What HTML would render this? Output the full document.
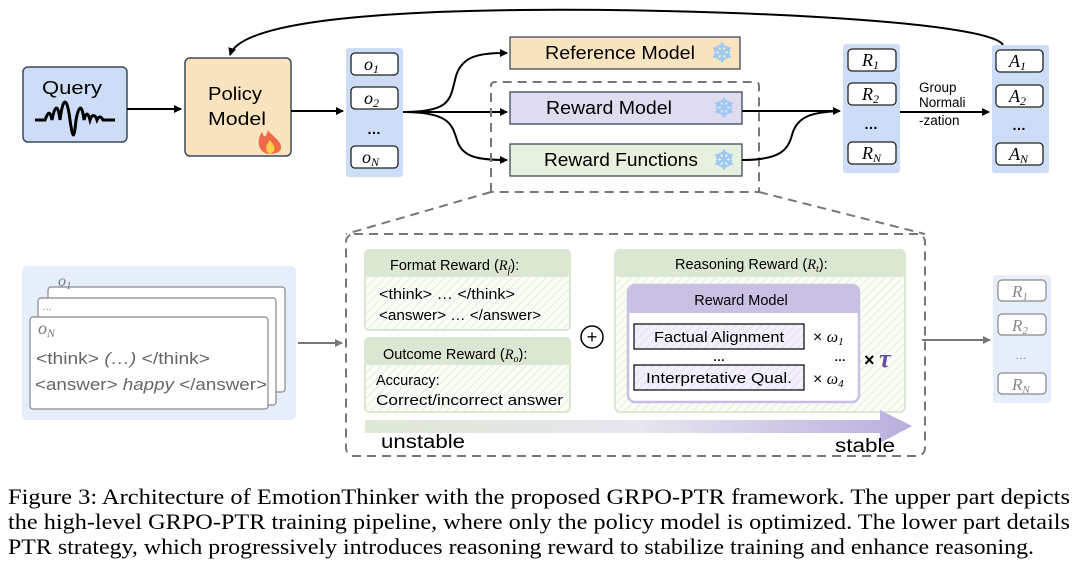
<!DOCTYPE html>
<html><head><meta charset="utf-8"><style>
html,body{margin:0;padding:0;background:#fff;width:1080px;height:577px;overflow:hidden}
svg{display:block}
.s{font-family:"Liberation Sans",sans-serif}
.m{font-family:"Liberation Serif",serif;font-style:italic}
</style></head><body>
<svg width="1080" height="577" viewBox="0 0 1080 577" xmlns="http://www.w3.org/2000/svg">
<defs>
<marker id="ah" markerWidth="8" markerHeight="8" refX="7" refY="4" orient="auto" markerUnits="userSpaceOnUse"><path d="M0,0 L8,4 L0,8 z" fill="#000"/></marker>
<marker id="ag" markerWidth="8" markerHeight="8" refX="7" refY="4" orient="auto" markerUnits="userSpaceOnUse"><path d="M0,0 L8,4 L0,8 z" fill="#777"/></marker>
<pattern id="hatch" width="6" height="6" patternUnits="userSpaceOnUse" patternTransform="rotate(45)"><rect width="6" height="6" fill="#fbfdf8"/><line x1="0" y1="0" x2="0" y2="6" stroke="#e3eed8" stroke-width="2"/></pattern>
<pattern id="hatchp" width="6" height="6" patternUnits="userSpaceOnUse" patternTransform="rotate(45)"><rect width="6" height="6" fill="#f3f0fb"/><line x1="0" y1="0" x2="0" y2="6" stroke="#e3def3" stroke-width="2"/></pattern>
<linearGradient id="gr" x1="0" x2="1"><stop offset="0" stop-color="#dfe9d6"/><stop offset="0.5" stop-color="#e8e6ef"/><stop offset="1" stop-color="#b9aede"/></linearGradient>
</defs>

<path d="M1003,45 C990,20 700,8 520,10 C350,12 240,25 230,55" fill="none" stroke="#000" stroke-width="2" marker-end="url(#ah)"/>

<rect x="23" y="67" width="104" height="75" rx="5" fill="#cddcf7" stroke="#3c4a5a" stroke-width="1.5"/>
<text x="42" y="94" class="s" font-size="18" textLength="60" lengthAdjust="spacingAndGlyphs">Query</text>
<path d="M35,120 L45,120 C48,112 50,110 52,120 C55,104 58,104 60,120 C63,96 67,96 70,120 C73,140 74,140 76,120 C79,104 82,104 84,120 C86,112 88,112 90,120 C92,114 95,114 97,120 C99,116 101,116 103,120 L115,120" fill="none" stroke="#000" stroke-width="3"/>
<line x1="127" y1="109" x2="181" y2="109" stroke="#000" stroke-width="2" marker-end="url(#ah)"/>

<rect x="185" y="58" width="106" height="98" rx="5" fill="#fae4c0" stroke="#3c4a5a" stroke-width="1.5"/>
<text x="208" y="100" class="s" font-size="18" textLength="54" lengthAdjust="spacingAndGlyphs">Policy</text>
<text x="208" y="125" class="s" font-size="18" textLength="58" lengthAdjust="spacingAndGlyphs">Model</text>
<path d="M268,154 C258,152 256,140 262,132 C264,138 266,138 268,130 C272,136 280,140 281,146 C282,152 276,154 268,154z" fill="#f06a4a"/>
<path d="M270,154 C265,152 265,146 270,140 C274,146 278,150 270,154z" fill="#fbd04a"/>
<line x1="291" y1="111" x2="343" y2="111" stroke="#000" stroke-width="2" marker-end="url(#ah)"/>

<rect x="346" y="48" width="57" height="129" rx="3" fill="#cddcf7"/>
<g fill="#fff" stroke="#222" stroke-width="1.3">
<rect x="351" y="53" width="47" height="22" rx="4"/><rect x="351" y="87" width="47" height="22" rx="4"/><rect x="351" y="146" width="47" height="22" rx="4"/></g>
<text x="364" y="70" class="m" font-size="18">o<tspan font-size="12" dy="3">1</tspan></text>
<text x="364" y="104" class="m" font-size="18">o<tspan font-size="12" dy="3">2</tspan></text>
<text x="362" y="163" class="m" font-size="18">o<tspan font-size="12" dy="3">N</tspan></text>
<text x="374" y="134" class="s" font-size="14" text-anchor="middle" font-weight="bold">…</text>

<path d="M403,112 C450,112 450,100 455,80 C460,55 480,53 507,53" fill="none" stroke="#000" stroke-width="2" marker-end="url(#ah)"/>
<line x1="403" y1="112" x2="507" y2="112" stroke="#000" stroke-width="2" marker-end="url(#ah)"/>
<path d="M403,112 C450,112 452,125 457,140 C462,158 480,160 507,160" fill="none" stroke="#000" stroke-width="2" marker-end="url(#ah)"/>

<path d="M491,192 L491,86 Q491,82 495,82 L755,82 Q759,82 759,86 L759,192 Z" fill="none" stroke="#777" stroke-width="2" stroke-dasharray="9,6"/>
<line x1="491" y1="192" x2="346" y2="234" stroke="#777" stroke-width="2" stroke-dasharray="9,6"/>
<line x1="759" y1="192" x2="925" y2="234" stroke="#777" stroke-width="2" stroke-dasharray="9,6"/>

<rect x="510" y="37" width="230" height="32" fill="#fae4c0" stroke="#3c4a5a" stroke-width="1.3"/>
<text x="545" y="59" class="s" font-size="18" textLength="150" lengthAdjust="spacingAndGlyphs">Reference Model</text>
<rect x="510" y="92" width="232" height="32" fill="#e0dcf0" stroke="#3c4a5a" stroke-width="1.3"/>
<text x="546" y="114" class="s" font-size="18" textLength="126" lengthAdjust="spacingAndGlyphs">Reward Model</text>
<rect x="510" y="144" width="232" height="32" fill="#e8f1de" stroke="#3c4a5a" stroke-width="1.3"/>
<text x="544" y="166" class="s" font-size="18" textLength="154" lengthAdjust="spacingAndGlyphs">Reward Functions</text>
<g class="s" font-size="26" fill="#9cc8f3" text-anchor="middle" font-weight="bold"><text x="722" y="62">❄</text><text x="724" y="117">❄</text><text x="724" y="169">❄</text></g>

<line x1="742" y1="111" x2="840" y2="111" stroke="#000" stroke-width="2" marker-end="url(#ah)"/>
<path d="M742,160 C780,160 788,150 792,135 C797,115 815,112 840,111" fill="none" stroke="#000" stroke-width="2"/>

<rect x="843" y="44" width="57" height="129" rx="3" fill="#cddcf7"/>
<g fill="#fff" stroke="#222" stroke-width="1.3">
<rect x="848" y="49" width="48" height="22" rx="4"/><rect x="848" y="83" width="48" height="22" rx="4"/><rect x="848" y="142" width="48" height="22" rx="4"/></g>
<text x="862" y="66" class="m" font-size="18">R<tspan font-size="12" dy="3">1</tspan></text>
<text x="862" y="100" class="m" font-size="18">R<tspan font-size="12" dy="3">2</tspan></text>
<text x="862" y="159" class="m" font-size="18">R<tspan font-size="12" dy="3">N</tspan></text>
<text x="871" y="129" class="s" font-size="14" text-anchor="middle" font-weight="bold">…</text>

<line x1="900" y1="112" x2="989" y2="112" stroke="#000" stroke-width="2" marker-end="url(#ah)"/>
<g class="s" font-size="13.5"><text x="919" y="92">Group</text><text x="919" y="107">Normali</text><text x="919" y="125">-zation</text></g>

<rect x="992" y="45" width="57" height="128" rx="3" fill="#cddcf7"/>
<g fill="#fff" stroke="#222" stroke-width="1.3">
<rect x="996" y="50" width="47" height="22" rx="4"/><rect x="996" y="85" width="47" height="22" rx="4"/><rect x="996" y="143" width="47" height="22" rx="4"/></g>
<text x="1009" y="67" class="m" font-size="18">A<tspan font-size="12" dy="3">1</tspan></text>
<text x="1009" y="102" class="m" font-size="18">A<tspan font-size="12" dy="3">2</tspan></text>
<text x="1009" y="160" class="m" font-size="18">A<tspan font-size="12" dy="3">N</tspan></text>
<text x="1019" y="130" class="s" font-size="14" text-anchor="middle" font-weight="bold">…</text>

<rect x="22" y="266" width="274" height="154" rx="5" fill="#e6edfb"/>
<rect x="48" y="287" width="237" height="105" rx="3" fill="#fff" stroke="#888" stroke-width="1.2"/>
<rect x="38" y="298" width="238" height="107" rx="3" fill="#fff" stroke="#888" stroke-width="1.2"/>
<rect x="30" y="317" width="238" height="92" rx="3" fill="#fff" stroke="#888" stroke-width="1.2"/>
<text x="58" y="286" class="m" font-size="16" fill="#777">o<tspan font-size="11" dy="3">1</tspan></text>
<text x="42" y="310" class="s" font-size="10" fill="#777">…</text>
<text x="38" y="334" class="m" font-size="18" fill="#777">o<tspan font-size="12" dy="3">N</tspan></text>
<text x="36" y="364" class="s" font-size="17" fill="#666" textLength="174" lengthAdjust="spacingAndGlyphs">&lt;think&gt; <tspan font-style="italic">(…)</tspan> &lt;/think&gt;</text>
<text x="35" y="390" class="s" font-size="17" fill="#666" textLength="232" lengthAdjust="spacingAndGlyphs">&lt;answer&gt; <tspan font-style="italic">happy</tspan> &lt;/answer&gt;</text>
<line x1="298" y1="343" x2="342" y2="343" stroke="#777" stroke-width="2" marker-end="url(#ag)"/>

<rect x="346" y="234" width="579" height="222" rx="8" fill="none" stroke="#777" stroke-width="2" stroke-dasharray="9,6"/>

<rect x="365" y="250" width="205" height="80" rx="4" fill="url(#hatch)" stroke="#dce7d2" stroke-width="2"/>
<rect x="365" y="250" width="205" height="27" rx="4" fill="#dce7d2"/>
<text x="390" y="270" class="s" font-size="14.5">Format Reward (<tspan class="m">R<tspan font-size="10" dy="3">f</tspan></tspan><tspan dy="-3">):</tspan></text>
<text x="379" y="299" class="s" font-size="14.5" textLength="136" lengthAdjust="spacingAndGlyphs">&lt;think&gt; … &lt;/think&gt;</text>
<text x="379" y="320" class="s" font-size="14.5" textLength="162" lengthAdjust="spacingAndGlyphs">&lt;answer&gt; … &lt;/answer&gt;</text>
<rect x="365" y="338" width="205" height="74" rx="4" fill="url(#hatch)" stroke="#dce7d2" stroke-width="2"/>
<rect x="365" y="338" width="205" height="27" rx="4" fill="#dce7d2"/>
<text x="383" y="359" class="s" font-size="14.5">Outcome Reward (<tspan class="m">R<tspan font-size="10" dy="3">o</tspan></tspan><tspan dy="-3">):</tspan></text>
<text x="376" y="385" class="s" font-size="14.5">Accuracy:</text>
<text x="376" y="405" class="s" font-size="14.5" textLength="187" lengthAdjust="spacingAndGlyphs">Correct/incorrect answer</text>

<circle cx="592" cy="337" r="11" fill="#fff" stroke="#000" stroke-width="1.5"/>
<text x="592" y="343" class="s" font-size="18" text-anchor="middle">+</text>

<rect x="615" y="250" width="290" height="162" rx="5" fill="url(#hatch)" stroke="#dce7d2" stroke-width="2"/>
<rect x="615" y="250" width="290" height="27" rx="5" fill="#dce7d2"/>
<text x="675" y="269" class="s" font-size="14.5">Reasoning Reward (<tspan class="m">R<tspan font-size="10" dy="3">t</tspan></tspan><tspan dy="-3">):</tspan></text>
<rect x="628" y="285" width="231" height="117" rx="7" fill="#fff" stroke="#c9c0e4" stroke-width="2.5"/>
<path d="M628,313 L628,292 Q628,285 635,285 L852,285 Q859,285 859,292 L859,313 Z" fill="#c9c0e4"/>
<text x="741" y="305" class="s" font-size="14.5" text-anchor="middle">Reward Model</text>
<rect x="634" y="324" width="170" height="25" fill="url(#hatchp)" stroke="#000" stroke-width="1.2"/>
<text x="719" y="342" class="s" font-size="14.5" text-anchor="middle" textLength="130" lengthAdjust="spacingAndGlyphs">Factual Alignment</text>
<rect x="634" y="365" width="170" height="25" fill="url(#hatchp)" stroke="#000" stroke-width="1.2"/>
<text x="719" y="383" class="s" font-size="14.5" text-anchor="middle" textLength="146" lengthAdjust="spacingAndGlyphs">Interpretative Qual.</text>
<text x="719" y="361" class="s" font-size="12" text-anchor="middle" font-weight="bold">…</text>
<text x="813" y="342" class="s" font-size="16">× <tspan class="m">ω<tspan font-size="11" dy="3">1</tspan></tspan></text>
<text x="834" y="361" class="s" font-size="12" font-weight="bold">…</text>
<text x="813" y="384" class="s" font-size="16">× <tspan class="m">ω<tspan font-size="11" dy="3">4</tspan></tspan></text>
<text x="864" y="366" class="s" font-size="18" font-weight="bold">×</text>
<text x="879" y="367" class="m" font-size="26" font-weight="bold" fill="#6a48a8">τ</text>

<path d="M365,420 L880,420 L880,410 L912,426 L880,443 L880,433 L365,433 Z" fill="url(#gr)"/>
<text x="381" y="448" class="s" font-size="19" textLength="84" lengthAdjust="spacingAndGlyphs">unstable</text>
<text x="835" y="452" class="s" font-size="19" textLength="60" lengthAdjust="spacingAndGlyphs">stable</text>

<line x1="922" y1="340" x2="990" y2="340" stroke="#777" stroke-width="2" marker-end="url(#ag)"/>
<rect x="993" y="275" width="58" height="128" rx="3" fill="#e6edfb"/>
<g fill="#fff" stroke="#888" stroke-width="1.2">
<rect x="998" y="280" width="48" height="21" rx="4"/><rect x="998" y="314" width="48" height="21" rx="4"/><rect x="998" y="373" width="48" height="21" rx="4"/></g>
<g fill="#888"><text x="1012" y="297" class="m" font-size="17">R<tspan font-size="11" dy="3">1</tspan></text>
<text x="1012" y="331" class="m" font-size="17">R<tspan font-size="11" dy="3">2</tspan></text>
<text x="1012" y="390" class="m" font-size="17">R<tspan font-size="11" dy="3">N</tspan></text>
<text x="1021" y="359" class="s" font-size="12" text-anchor="middle">…</text></g>

<g font-family="'Liberation Serif',serif" font-size="22" fill="#000">
<text x="8" y="504" textLength="1062" lengthAdjust="spacingAndGlyphs">Figure 3: Architecture of EmotionThinker with the proposed GRPO-PTR framework. The upper part depicts</text>
<text x="8" y="529" textLength="1062" lengthAdjust="spacingAndGlyphs">the high-level GRPO-PTR training pipeline, where only the policy model is optimized. The lower part details</text>
<text x="8" y="554" textLength="1026" lengthAdjust="spacingAndGlyphs">PTR strategy, which progressively introduces reasoning reward to stabilize training and enhance reasoning.</text>
</g>
</svg>
</body></html>
